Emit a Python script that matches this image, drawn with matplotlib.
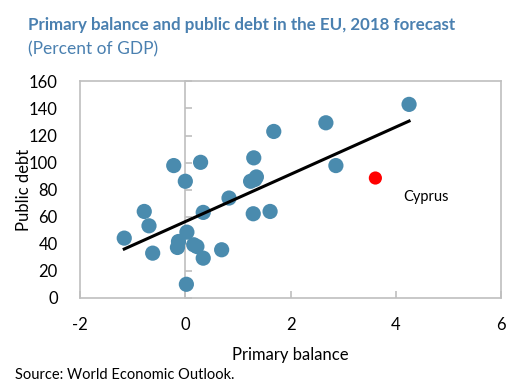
import matplotlib
matplotlib.use("Agg")
import matplotlib.pyplot as plt
import numpy as np

plt.rcParams["font.family"] = ["Lato", "DejaVu Sans"]

# primary balance (x) and public debt (y), percent of GDP
balance = [-1.16, -0.78, -0.69, -0.62, -0.22, 0.00, 0.29, -0.13, -0.15, 0.03,
           0.16, 0.22, 0.34, 0.34, 0.02, 0.69, 0.83, 1.30, 1.24, 1.32, 1.35,
           1.29, 1.61, 1.68, 2.67, 4.25, 2.86]
debt = [44.2, 63.9, 53.3, 33.1, 97.8, 86.2, 100.2, 41.7, 37.3, 48.6,
        39.3, 38.0, 29.4, 63.2, 10.1, 35.6, 73.8, 103.5, 86.2, 87.5, 89.4,
        62.2, 63.9, 123.0, 129.4, 143.0, 97.8]
cyprus_balance = 3.61
cyprus_debt = 88.6

x_ticks = [-2, 0, 2, 4, 6]
y_ticks = list(range(0, 161, 20))

blue = "#4A8BAE"
grey = "#BFBFBF"
title_blue = "#4A80B0"

fig = plt.figure(figsize=(5.13, 3.82), dpi=100)
ax = fig.add_axes([0.156, 0.22, 0.821, 0.567])

ax.scatter(balance, debt, s=120, color=blue, edgecolors="none", zorder=3)
ax.scatter([cyprus_balance], [cyprus_debt], s=90, color="#FF0000", edgecolors="none", zorder=3)

all_x = np.array(balance + [cyprus_balance])
all_y = np.array(debt + [cyprus_debt])
slope, intercept = np.polyfit(all_x, all_y, 1)
xs = np.array([min(balance), max(balance)])
ax.plot(xs, slope * xs + intercept, color="black", lw=2.2, zorder=4)

ax.text(4.13, 74.8, "Cyprus", fontsize=10.5, va="center", ha="left")

ax.set_xlim(-2, 6)
ax.set_ylim(0, 160)
ax.set_xticks(x_ticks)
ax.set_xticklabels([str(t) for t in x_ticks])
ax.set_yticks(y_ticks)
for sp in ax.spines.values():
    sp.set_color(grey)
    sp.set_linewidth(1.2)
ax.tick_params(axis="x", direction="in", length=5, color=grey, width=1.2,
               labelsize=12, pad=14)
ax.tick_params(axis="y", length=0, labelsize=12, pad=16)

# vertical zero axis with its own ticks
zero_axis = ax.secondary_yaxis(0.25)
zero_axis.set_yticks(y_ticks)
zero_axis.tick_params(direction="in", length=5, color=grey, width=1.2, labelleft=False)
zero_axis.spines["left"].set_color(grey)
zero_axis.spines["left"].set_linewidth(1.2)

ax.set_xlabel("Primary balance", fontsize=12, labelpad=10)
ax.set_ylabel("Public debt", fontsize=12, labelpad=-2)

fig.text(0.055, 0.935, "Primary balance and public debt in the EU, 2018 forecast",
         fontsize=12.2, fontweight="bold", color=title_blue, va="center")
fig.text(0.055, 0.872, "(Percent of GDP)", fontsize=12.5, color=title_blue, va="center")
fig.text(0.03, 0.018, "Source: World Economic Outlook.", fontsize=10.5, va="center")

fig.savefig("out.png", dpi=100)
